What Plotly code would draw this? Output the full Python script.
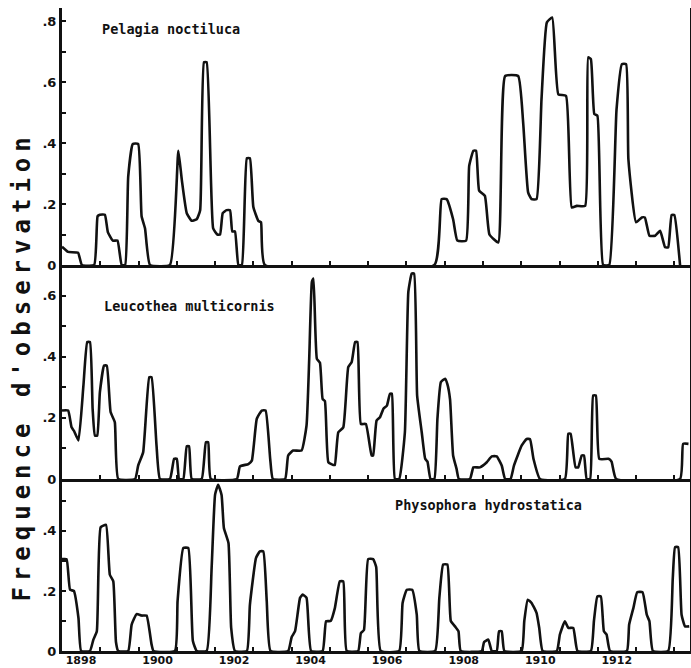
import plotly.graph_objects as go

# ---------------- data ----------------
years_pelagia = [1898.00, 1898.16, 1898.42, 1898.52, 1898.84, 1898.93, 1898.99, 1899.12, 1899.20, 1899.33,
                 1899.45, 1899.56, 1899.65, 1899.73, 1899.85, 1899.99, 1900.08, 1900.17, 1900.30, 1900.82,
                 1901.04, 1901.13, 1901.26, 1901.39, 1901.52, 1901.61, 1901.71, 1901.78, 1901.95, 1902.06,
                 1902.13, 1902.20, 1902.30, 1902.39, 1902.45, 1902.52, 1902.61, 1902.70, 1902.83, 1902.91,
                 1903.00, 1903.13, 1903.20, 1903.30, 1907.73, 1907.92, 1908.05, 1908.22, 1908.33, 1908.56,
                 1908.64, 1908.75, 1908.82, 1908.90, 1909.05, 1909.17, 1909.40, 1909.58, 1909.92, 1910.05,
                 1910.18, 1910.27, 1910.40, 1910.53, 1910.67, 1910.81, 1910.97, 1911.17, 1911.32, 1911.45,
                 1911.67, 1911.75, 1911.82, 1911.91, 1911.99, 1912.14, 1912.30, 1912.49, 1912.63, 1912.74,
                 1912.80, 1913.00, 1913.15, 1913.23, 1913.35, 1913.50, 1913.63, 1913.76, 1913.84, 1913.93,
                 1914.00, 1914.15]
freq_pelagia = [0.06, 0.043, 0.04, 0, 0, 0.16, 0.165, 0.165, 0.107, 0.08,
                0.08, 0, 0, 0.29, 0.397, 0.397, 0.16, 0.12, 0, 0,
                0.375, 0.28, 0.17, 0.145, 0.15, 0.18, 0.665, 0.665, 0.12, 0.1,
                0.1, 0.17, 0.18, 0.18, 0.11, 0.11, 0, 0, 0.35, 0.35,
                0.19, 0.145, 0.14, 0, 0, 0.216, 0.216, 0.15, 0.08, 0.08,
                0.325, 0.375, 0.375, 0.244, 0.227, 0.1, 0.074, 0.62, 0.62, 0.468,
                0.238, 0.216, 0.216, 0.544, 0.796, 0.812, 0.56, 0.555, 0.189, 0.194,
                0.194, 0.681, 0.675, 0.495, 0.49, 0, 0, 0.51, 0.659, 0.659,
                0.347, 0.14, 0.156, 0.156, 0.096, 0.096, 0.112, 0.058, 0.058, 0.164,
                0.164, 0]

years_leucothea = [1898.00, 1898.16, 1898.25, 1898.31, 1898.43, 1898.56, 1898.66, 1898.73, 1898.80, 1898.86,
                   1898.92, 1898.99, 1899.10, 1899.17, 1899.27, 1899.38, 1899.47, 1899.91, 1899.99, 1900.12,
                   1900.28, 1900.34, 1900.47, 1900.56, 1900.82, 1900.93, 1901.00, 1901.06, 1901.17, 1901.26,
                   1901.32, 1901.39, 1901.65, 1901.76, 1901.82, 1901.89, 1902.57, 1902.65, 1902.87, 1902.96,
                   1903.09, 1903.22, 1903.32, 1903.44, 1903.51, 1903.83, 1903.91, 1904.04, 1904.26, 1904.39,
                   1904.46, 1904.53, 1904.57, 1904.66, 1904.74, 1904.81, 1904.87, 1904.96, 1905.09, 1905.13,
                   1905.22, 1905.35, 1905.48, 1905.57, 1905.66, 1905.72, 1905.81, 1905.94, 1906.09, 1906.13,
                   1906.22, 1906.31, 1906.40, 1906.49, 1906.57, 1906.62, 1906.70, 1906.81, 1906.96, 1907.05,
                   1907.14, 1907.20, 1907.28, 1907.40, 1907.49, 1907.55, 1907.63, 1907.73, 1907.81, 1907.90,
                   1908.01, 1908.07, 1908.14, 1908.22, 1908.31, 1908.37, 1908.66, 1908.75, 1908.92, 1909.10,
                   1909.23, 1909.36, 1909.49, 1909.58, 1909.72, 1909.81, 1910.01, 1910.14, 1910.23, 1910.32,
                   1910.49, 1911.14, 1911.23, 1911.29, 1911.42, 1911.49, 1911.58, 1911.64, 1911.71, 1911.80,
                   1911.88, 1911.95, 1912.04, 1912.28, 1912.36, 1912.48, 1914.15, 1914.23, 1914.37]
freq_leucothea = [0.224, 0.224, 0.169, 0.158, 0.126, 0.306, 0.448, 0.448, 0.23, 0.142,
                  0.142, 0.284, 0.371, 0.371, 0.219, 0.186, 0, 0, 0.044, 0.087,
                  0.333, 0.333, 0.109, 0, 0, 0.066, 0.066, 0, 0, 0.107,
                  0.107, 0, 0, 0.12, 0.12, 0, 0, 0.041, 0.049, 0.06,
                  0.197, 0.224, 0.224, 0.066, 0, 0, 0.077, 0.093, 0.093, 0.175,
                  0.393, 0.645, 0.656, 0.393, 0.38, 0.262, 0.255, 0.055, 0.046, 0.046,
                  0.153, 0.169, 0.366, 0.383, 0.448, 0.448, 0.18, 0.18, 0.077, 0.077,
                  0.191, 0.202, 0.23, 0.24, 0.279, 0.279, 0, 0, 0.153, 0.612,
                  0.672, 0.672, 0.273, 0.153, 0.066, 0.057, 0, 0, 0.197, 0.317,
                  0.328, 0.31, 0.26, 0.077, 0.033, 0, 0, 0.038, 0.038, 0.055,
                  0.074, 0.074, 0.044, 0, 0, 0.044, 0.109, 0.131, 0.13, 0.066,
                  0, 0, 0.148, 0.148, 0.038, 0.038, 0.077, 0.077, 0, 0,
                  0.273, 0.273, 0.066, 0.066, 0.057, 0, 0, 0.115, 0.115]

years_physophora = [1898.00, 1898.12, 1898.21, 1898.31, 1898.43, 1898.50, 1898.73, 1898.82, 1898.91, 1899.01,
                    1899.15, 1899.25, 1899.34, 1899.41, 1899.47, 1899.73, 1899.82, 1899.95, 1900.08, 1900.21,
                    1900.34, 1900.39, 1900.95, 1901.02, 1901.17, 1901.30, 1901.42, 1901.52, 1901.78, 1901.91,
                    1902.00, 1902.08, 1902.17, 1902.23, 1902.35, 1902.42, 1902.52, 1902.83, 1902.91, 1903.07,
                    1903.17, 1903.26, 1903.35, 1903.45, 1903.91, 1904.00, 1904.09, 1904.22, 1904.29, 1904.39,
                    1904.51, 1904.81, 1904.90, 1905.02, 1905.13, 1905.26, 1905.35, 1905.44, 1905.74, 1905.81,
                    1905.89, 1906.00, 1906.13, 1906.21, 1906.33, 1906.81, 1906.90, 1907.01, 1907.15, 1907.27,
                    1907.34, 1907.75, 1907.86, 1907.96, 1908.07, 1908.16, 1908.27, 1908.36, 1908.42, 1908.97,
                    1909.03, 1909.14, 1909.23, 1909.36, 1909.42, 1909.49, 1909.56, 1910.01, 1910.08, 1910.17,
                    1910.27, 1910.40, 1910.47, 1910.56, 1910.93, 1911.01, 1911.14, 1911.23, 1911.36, 1911.47,
                    1911.82, 1911.90, 1911.99, 1912.08, 1912.16, 1912.23, 1912.32, 1912.76, 1912.82, 1912.93,
                    1913.03, 1913.17, 1913.28, 1913.35, 1913.44, 1913.84, 1913.96, 1914.02, 1914.10, 1914.19,
                    1914.28, 1914.39]
freq_physophora = [0.306, 0.306, 0.204, 0.2, 0.11, 0, 0, 0.038, 0.066, 0.412,
                   0.42, 0.254, 0.232, 0.03, 0, 0, 0.088, 0.123, 0.118, 0.118,
                   0.022, 0, 0, 0.166, 0.343, 0.343, 0.033, 0, 0, 0.277,
                   0.521, 0.554, 0.52, 0.41, 0.36, 0.078, 0, 0, 0.154, 0.31,
                   0.332, 0.332, 0.166, 0, 0, 0.046, 0.066, 0.177, 0.188, 0.177,
                   0, 0, 0.099, 0.1, 0.143, 0.232, 0.232, 0, 0, 0.06,
                   0.07, 0.306, 0.306, 0.28, 0, 0, 0.16, 0.204, 0.204, 0.121,
                   0, 0, 0.177, 0.288, 0.288, 0.1, 0.082, 0.066, 0, 0,
                   0.03, 0.038, 0, 0, 0.066, 0.066, 0, 0, 0.1, 0.171,
                   0.16, 0.127, 0.077, 0, 0, 0.055, 0.099, 0.077, 0.077, 0,
                   0, 0.1, 0.182, 0.182, 0.066, 0.055, 0, 0, 0.088, 0.143,
                   0.196, 0.196, 0.121, 0.099, 0, 0, 0.243, 0.346, 0.346, 0.121,
                   0.082, 0.082]

species = ["Pelagia noctiluca", "Leucothea multicornis", "Physophora hydrostatica"]
year_ticks = list(range(1898, 1915))
year_labels = [str(y) if y % 2 == 0 and y <= 1912 else "" for y in year_ticks]
freq_ticks = [0.0, 0.1, 0.2, 0.3, 0.4, 0.5, 0.6, 0.7, 0.8]
freq_labels = ["0", "", ".2", "", ".4", "", ".6", "", ".8"]
y_title = "Frequence d'observation"

# ---------------- figure ----------------
INK = "#111111"
LBL = dict(family="DejaVu Sans, sans-serif", size=12, color=INK, weight="bold")

fig = go.Figure()
series = [(years_pelagia, freq_pelagia, "x", "y"),
          (years_leucothea, freq_leucothea, "x2", "y2"),
          (years_physophora, freq_physophora, "x3", "y3")]
for xs, ys, xa, ya in series:
    fig.add_trace(go.Scatter(x=xs, y=ys, xaxis=xa, yaxis=ya, mode="lines",
                             line=dict(color=INK, width=2.6, shape="spline", smoothing=0.4),
                             showlegend=False, hoverinfo="skip"))

x_range = [1898, 1914.41]
domains = [[0.6003, 1.0], [0.2675, 0.6003], [0.0, 0.2675]]
y_ranges = [[0, 0.843], [0, 0.70], [0, 0.573]]

def xaxis_cfg(anchor, show_labels):
    return dict(range=x_range, anchor=anchor, showline=True, linecolor=INK, linewidth=3,
                ticks="inside", ticklen=4, tickwidth=2, tickcolor=INK,
                tickmode="array", tickvals=year_ticks, ticktext=year_labels,
                showgrid=False, zeroline=False, automargin=False,
                showticklabels=show_labels, tickfont=dict(LBL, size=11),
                ticklabelshift=19, ticklabelstandoff=-3)

def yaxis_cfg(i, anchor):
    top = y_ranges[i][1]
    vals = [v for v in freq_ticks if v <= top + 1e-9]
    txt = freq_labels[:len(vals)]
    return dict(domain=domains[i], range=y_ranges[i], anchor=anchor,
                showline=True, mirror=True, linecolor=INK, linewidth=3,
                ticks="inside", ticklen=4, tickwidth=2, tickcolor=INK,
                tickmode="array", tickvals=vals, ticktext=txt,
                tickfont=dict(LBL, size=13), showgrid=False, zeroline=False,
                automargin=False)

fig.update_layout(
    width=691, height=668,
    margin=dict(l=62, r=1, t=8, b=17),
    paper_bgcolor="white", plot_bgcolor="white",
    template="none",
    xaxis=xaxis_cfg("y", False),
    xaxis2=dict(xaxis_cfg("y2", False), matches="x"),
    xaxis3=dict(xaxis_cfg("y3", True), matches="x"),
    yaxis=yaxis_cfg(0, "x"),
    yaxis2=yaxis_cfg(1, "x2"),
    yaxis3=yaxis_cfg(2, "x3"),
)

NAME_FONT = dict(family="DejaVu Sans Mono, monospace", size=13.5, color=INK, weight="bold")
fig.add_annotation(text=species[0], xref="x", yref="y", x=1898.99, y=0.774,
                   xanchor="left", yanchor="middle", showarrow=False, font=NAME_FONT)
fig.add_annotation(text=species[1], xref="x2", yref="y2", x=1899.05, y=0.567,
                   xanchor="left", yanchor="middle", showarrow=False, font=NAME_FONT)
fig.add_annotation(text=species[2], xref="x3", yref="y3", x=1906.65, y=0.487,
                   xanchor="left", yanchor="middle", showarrow=False, font=NAME_FONT)

fig.add_annotation(text="<span style=\"letter-spacing:6px\">" + y_title + "</span>",
                   xref="paper", yref="paper", x=-0.064, y=0.442, textangle=-90,
                   xanchor="center", yanchor="middle", showarrow=False,
                   font=dict(family="DejaVu Sans Mono, monospace", size=24, color=INK, weight="bold"))

fig.write_html("out.html", config={"displayModeBar": False},
               post_script="document.body.style.margin='0';document.body.style.overflow='hidden';")
